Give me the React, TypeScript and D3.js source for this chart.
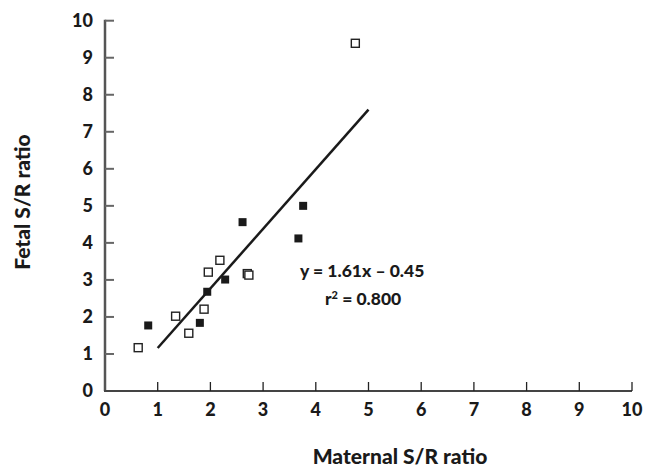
import React from 'react';
import * as d3 from 'd3';

// values
const openX = [0.63, 1.34, 1.59, 1.88, 1.96, 2.18, 2.70, 2.73, 4.75];
const openY = [1.17, 2.02, 1.56, 2.21, 3.21, 3.53, 3.17, 3.13, 9.39];
const filledX = [0.82, 1.80, 1.94, 2.28, 2.61, 3.67, 3.76];
const filledY = [1.77, 1.84, 2.68, 3.01, 4.56, 4.12, 5.00];
const ticks = [0, 1, 2, 3, 4, 5, 6, 7, 8, 9, 10];
const slope = 1.61;
const intercept = -0.45;
const fitRange = [1, 5];

const width = 647;
const height = 467;
const font = 'Lato, "Open Sans", sans-serif';

export default function App() {
  const x = d3.scaleLinear().domain([0, 10]).range([105, 632]);
  const y = d3.scaleLinear().domain([0, 10]).range([391, 20.7]);
  const sq = 8;

  const fitLine = d3.line<number>()
    .x(d => x(d))
    .y(d => y(slope * d + intercept));

  return (
    <svg width={width} height={height} style={{ position: 'absolute', left: 0, top: 0, background: '#fff' }}>
      {/* y axis */}
      <line x1={x(0)} x2={x(0)} y1={y(10) - 1} y2={y(0)} stroke='#555' strokeWidth={2.5} />
      {ticks.slice(1).map(t =>
        <line key={`yt-${t}`} x1={x(0)} x2={x(0) + 9} y1={y(t)} y2={y(t)} stroke='#666' strokeWidth={2} />
      )}
      {/* x axis */}
      <line x1={x(0) - 1} x2={x(10)} y1={y(0)} y2={y(0)} stroke='#444' strokeWidth={2} />
      {ticks.slice(1).map(t =>
        <line key={`xt-${t}`} x1={x(t)} x2={x(t)} y1={y(0)} y2={y(0) - 9} stroke='#222' strokeWidth={1.3} />
      )}

      {/* tick labels */}
      {ticks.map(t =>
        <text key={`yl-${t}`} x={93} y={y(t)} dy='0.36em' textAnchor='end'
          fontFamily={font} fontWeight={900} fontSize={18} fill='#1a1a1a'>{t}</text>
      )}
      {ticks.map(t =>
        <text key={`xl-${t}`} x={x(t)} y={410} dy='0.36em' textAnchor='middle'
          fontFamily={font} fontWeight={900} fontSize={18} fill='#1a1a1a'>{t}</text>
      )}

      {/* axis titles */}
      <text x={400} y={456} dy='0.36em' textAnchor='middle'
        fontFamily={font} fontWeight={900} fontSize={21} fill='#1a1a1a'>Maternal S/R ratio</text>
      <text transform={`translate(22, 202) rotate(-90)`} dy='0.36em' textAnchor='middle'
        fontFamily={font} fontWeight={900} fontSize={21} fill='#1a1a1a'>Fetal S/R ratio</text>

      {/* regression line */}
      <path d={fitLine(fitRange) || ''} fill='none' stroke='#1a1a1a' strokeWidth={2.5} />

      {/* points */}
      {openX.map((v, i) =>
        <rect key={`o-${i}`} x={x(v) - sq / 2} y={y(openY[i]) - sq / 2} width={sq} height={sq}
          fill='#fff' stroke='#222' strokeWidth={1.4} />
      )}
      {filledX.map((v, i) =>
        <rect key={`f-${i}`} x={x(v) - sq / 2} y={y(filledY[i]) - sq / 2} width={sq} height={sq}
          fill='#1a1a1a' />
      )}

      {/* equation */}
      <text x={300} y={277} fontFamily={font} fontWeight={900} fontSize={17.5} fill='#1a1a1a'>
        y = 1.61x – 0.45
      </text>
      <text x={325} y={305} fontFamily={font} fontWeight={900} fontSize={17.5} fill='#1a1a1a'>
        r<tspan dy={-6} fontSize={11}>2</tspan><tspan dy={6}> = 0.800</tspan>
      </text>
    </svg>
  );
}
